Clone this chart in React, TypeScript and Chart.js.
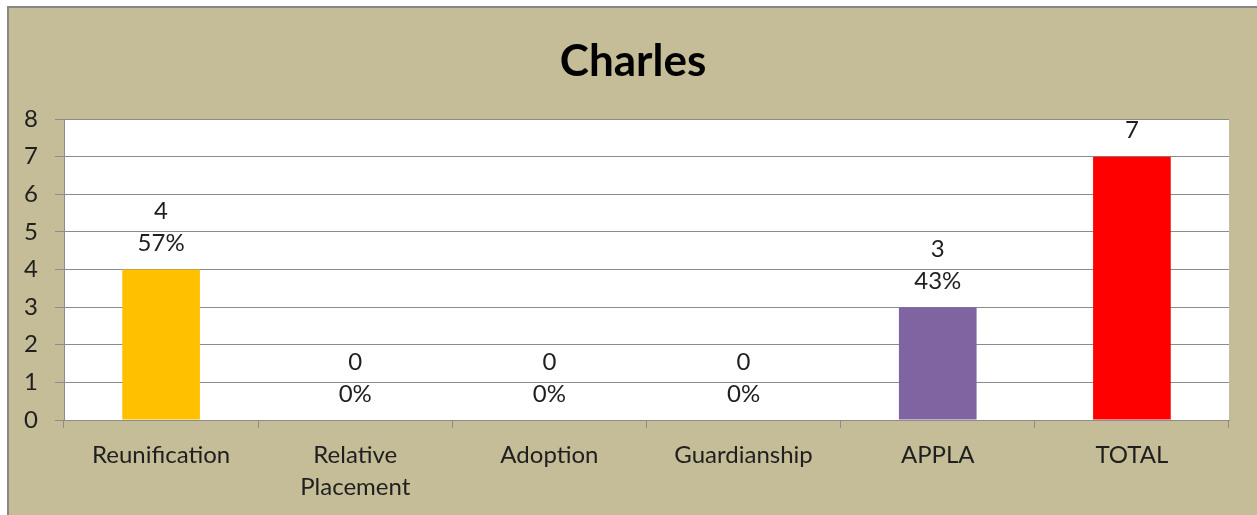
import React, { useEffect, useRef } from "react";
import { Chart, registerables } from "chart.js";

Chart.register(...registerables);

const titleText = "Charles";
const categories: (string | string[])[] = [
  "Reunification",
  ["Relative", "Placement"],
  "Adoption",
  "Guardianship",
  "APPLA",
  "TOTAL",
];
const counts = [4, 0, 0, 0, 3, 7];
const percentLabels: (string | null)[] = ["57%", "0%", "0%", "0%", "43%", null];
const barColors = ["#FFC000", "#FFC000", "#FFC000", "#FFC000", "#8064A2", "#FF0000"];
const yTicks = [0, 1, 2, 3, 4, 5, 6, 7, 8];

const FONT = "Lato, 'Noto Sans', sans-serif";
const TEXT = "#1f1f1f";
const GRID = "#8c8c8c";

const plotBg = {
  id: "plotBg",
  beforeDraw(chart: any) {
    const { ctx, chartArea } = chart;
    ctx.save();
    ctx.fillStyle = "#ffffff";
    ctx.fillRect(chartArea.left, chartArea.top, chartArea.right - chartArea.left, chartArea.bottom - chartArea.top);
    ctx.restore();
  },
};

const centeredTitle = {
  id: "centeredTitle",
  afterDraw(chart: any) {
    const { ctx, width } = chart;
    ctx.save();
    ctx.font = `bold 44px ${FONT}`;
    ctx.fillStyle = "#000000";
    ctx.textAlign = "center";
    ctx.textBaseline = "middle";
    ctx.fillText(titleText, width / 2, 54);
    ctx.restore();
  },
};

const dataLabels = {
  id: "dataLabels",
  afterDatasetsDraw(chart: any) {
    const { ctx } = chart;
    const meta = chart.getDatasetMeta(0);
    ctx.save();
    ctx.font = `24px ${FONT}`;
    ctx.fillStyle = TEXT;
    ctx.textAlign = "center";
    ctx.textBaseline = "middle";
    meta.data.forEach((bar: any, i: number) => {
      const pct = percentLabels[i];
      if (pct !== null) {
        ctx.fillText(pct, bar.x, bar.y - 26);
        ctx.fillText(String(counts[i]), bar.x, bar.y - 58);
      } else {
        ctx.fillText(String(counts[i]), bar.x, bar.y - 26);
      }
    });
    ctx.restore();
  },
};

export default function App() {
  const ref = useRef<HTMLCanvasElement | null>(null);
  useEffect(() => {
    if (!ref.current) return;
    const chart = new Chart(ref.current, {
      type: "bar",
      data: {
        labels: categories as any,
        datasets: [
          {
            data: counts,
            backgroundColor: barColors,
            borderWidth: 0,
            categoryPercentage: 1,
            barPercentage: 0.4,
          },
        ],
      },
      options: {
        animation: false,
        responsive: false,
        maintainAspectRatio: false,
        devicePixelRatio: 1,
        layout: { padding: { left: 0, right: 28, top: 111, bottom: 0 } },
        plugins: {
          legend: { display: false },
          tooltip: { enabled: false },
          title: { display: false },
        },
        scales: {
          x: {
            afterFit(scale: any) {
              scale.height = 95;
            },
            grid: {
              drawOnChartArea: false,
              drawTicks: true,
              tickLength: 8,
              color: GRID,
              offset: true,
            },
            border: { display: true, color: GRID, width: 1 },
            ticks: {
              color: TEXT,
              font: { family: FONT, size: 24, lineHeight: 1.3 },
              padding: 12,
              maxRotation: 0,
              autoSkip: false,
            },
          },
          y: {
            min: 0,
            max: 8,
            afterFit(scale: any) {
              scale.width = 55;
            },
            afterBuildTicks(scale: any) {
              scale.ticks = yTicks.map((v) => ({ value: v }));
            },
            grid: {
              color: GRID,
              drawTicks: true,
              tickLength: 9,
            },
            border: { display: true, color: GRID, width: 1 },
            ticks: {
              color: TEXT,
              font: { family: FONT, size: 24 },
              padding: 17,
            },
          },
        },
      },
      plugins: [plotBg, dataLabels, centeredTitle],
    });
    return () => chart.destroy();
  }, []);

  return (
    <div style={{ position: "absolute", left: 0, top: 0, width: 1257, height: 515, background: "#ffffff", overflow: "hidden" }}>
      <div
        style={{
          position: "absolute",
          left: 7,
          top: 6,
          width: 1250,
          height: 509,
          background: "#C4BD97",
          borderTop: "2px solid #878787",
          borderLeft: "2px solid #878787",
          boxSizing: "border-box",
        }}
      >
        <canvas ref={ref} width={1248} height={507} style={{ display: "block", width: 1248, height: 507 }} />
      </div>
    </div>
  );
}
